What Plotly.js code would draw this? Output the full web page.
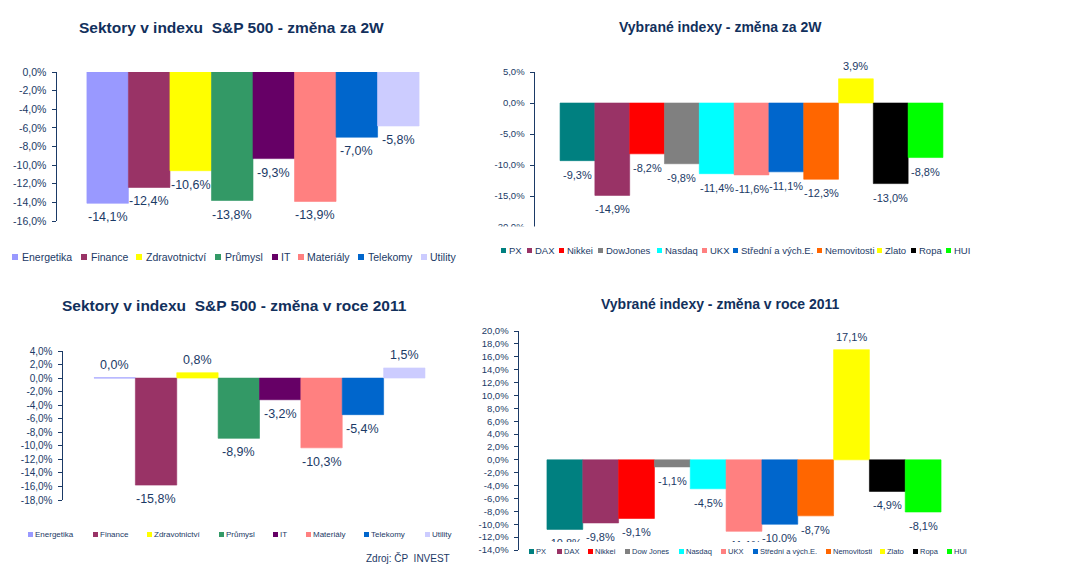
<!DOCTYPE html>
<html>
<head>
<meta charset="utf-8">
<script src="https://cdn.plot.ly/plotly-3.0.1.min.js"></script>
<style>html,body{margin:0;padding:0;background:#fff;}</style>
</head>
<body>
<div id="chart" style="width:1077px;height:576px;"></div>
<script>
// ---------- DATA ----------
const sectors = ['Energetika','Finance','Zdravotnictví','Průmysl','IT','Materiály','Telekomy','Utility'];
const sectorColors = ['#9999FF','#993366','#FFFF00','#339966','#660066','#FF8080','#0066CC','#CCCCFF'];
const sectors2W = [-14.1,-12.4,-10.6,-13.8,-9.3,-13.9,-7.0,-5.8];
const sectors2011 = [0.04,-15.8,0.8,-8.9,-3.2,-10.3,-5.4,1.5];

const indices2W = ['PX','DAX','Nikkei','DowJones','Nasdaq','UKX','Střední a vých.E.','Nemovitosti','Zlato','Ropa','HUI'];
const indices2011 = ['PX','DAX','Nikkei','Dow Jones','Nasdaq','UKX','Střední a vých.E.','Nemovitosti','Zlato','Ropa','HUI'];
const indexColors = ['#008080','#993366','#FF0000','#808080','#00FFFF','#FF8080','#0066CC','#FF6600','#FFFF00','#000000','#00FF00'];
const indicesVals2W = [-9.3,-14.9,-8.2,-9.8,-11.4,-11.6,-11.1,-12.3,3.9,-13.0,-8.8];
const indicesVals2011 = [-10.8,-9.8,-9.1,-1.1,-4.5,-11.1,-10.0,-8.7,17.1,-4.9,-8.1];

const ticksTL = [0,-2,-4,-6,-8,-10,-12,-14,-16];
const ticksTR = [5,0,-5,-10,-15,-20];
const ticksBL = [4,2,0,-2,-4,-6,-8,-10,-12,-14,-16,-18];
const ticksBR = [20,18,16,14,12,10,8,6,4,2,0,-2,-4,-6,-8,-10,-12,-14];

const titles = ['Sektory v indexu  S&P 500 - změna za 2W','Vybrané indexy - změna za 2W',
                'Sektory v indexu  S&P 500 - změna v roce 2011','Vybrané indexy - změna v roce 2011'];
const sourceText = 'Zdroj: ČP  INVEST';

// ---------- HELPERS ----------
const W = 1077, H = 576;
const px = x => x / W;
const py = y => 1 - y / H;
const fmt = v => v.toFixed(1).replace('.', ',') + '%';
const NAVY = '#1B3A66';
const TITLE = '#12305C';
const FONT = 'Liberation Sans, Arial, sans-serif';

const traces = [];
const annotations = [];
const shapes = [];

function addBars(names, vals, colors, xa, ya, fsize) {
  names.forEach((n, i) => {
    traces.push({
      type: 'bar', x: [n], y: [vals[i]],
      marker: {color: colors[i], line: {width: 0.6, color: colors[i]}},
      xaxis: xa, yaxis: ya, showlegend: false, hoverinfo: 'skip'
    });
    annotations.push({
      xref: xa, yref: ya, x: n, y: vals[i], text: fmt(vals[i]),
      xanchor: 'center', yanchor: 'middle', yshift: vals[i] < 0 ? -14 : 13,
      showarrow: false, font: {family: FONT, size: fsize, color: NAVY}
    });
  });
}
addBars(sectors, sectors2W, sectorColors, 'x', 'y', 12.5);
addBars(indices2W, indicesVals2W, indexColors, 'x2', 'y2', 11);
addBars(sectors, sectors2011, sectorColors, 'x3', 'y3', 12.5);
addBars(indices2011, indicesVals2011, indexColors, 'x4', 'y4', 11);

function yax(top, bottom, range, ticks, fsize, anchor) {
  return {
    domain: [py(bottom), py(top)], range: range, anchor: anchor,
    tickmode: 'array', tickvals: ticks, ticktext: ticks.map(fmt),
    ticks: 'outside', ticklen: 4, tickcolor: NAVY, tickwidth: 1,
    showline: true, linecolor: NAVY, linewidth: 1.5,
    showgrid: false, zeroline: false, ticklabelstandoff: 3,
    tickfont: {family: FONT, size: fsize, color: NAVY}, fixedrange: true
  };
}
function xax(left, right, range, anchor) {
  return {domain: [px(left), px(right)], range: range, anchor: anchor,
          type: 'category', visible: false, fixedrange: true};
}

// titles
[[231, 27, 15.5], [720, 27, 14], [234, 305, 15.5], [720, 304, 14]].forEach((p, i) => {
  annotations.push({xref: 'paper', yref: 'paper', x: px(p[0]), y: py(p[1]),
    xanchor: 'center', yanchor: 'middle', showarrow: false,
    text: '<b>' + titles[i] + '</b>', font: {family: FONT, size: p[2], color: TITLE}});
});

// region cut off at the bottom of the 2011 index chart in the original
annotations.push({xref: 'paper', yref: 'paper', x: px(525), y: py(542), xanchor: 'left', yanchor: 'top',
  showarrow: false, text: ' ', width: 485, height: 14, bgcolor: '#FFFFFF', borderpad: 0, borderwidth: 0});
// region cut off below the 2W index chart axis
shapes.push({type: 'rect', xref: 'paper', yref: 'paper', layer: 'above',
  x0: px(480), x1: px(600), y0: py(240), y1: py(226.5), fillcolor: '#FFFFFF', line: {width: 0}});

// legends (compact, like the original): coloured square + name
function addLegend(names, colors, xs, yc, sq, gap, fsize) {
  names.forEach((n, i) => {
    annotations.push({xref: 'paper', yref: 'paper', x: px(xs[i]), y: py(yc),
      xanchor: 'left', yanchor: 'middle', showarrow: false, text: ' ',
      width: sq, height: sq, bgcolor: colors[i], borderpad: 0, borderwidth: 0,
      font: {size: 1}});
    annotations.push({xref: 'paper', yref: 'paper', x: px(xs[i] + sq + gap), y: py(yc),
      xanchor: 'left', yanchor: 'middle', showarrow: false, text: n,
      font: {family: FONT, size: fsize, color: NAVY}, borderpad: 0});
  });
}
addLegend(sectors, sectorColors, [12, 81, 136, 215, 271.5, 297.5, 358, 420.5], 257, 6, 2.5, 10.5);
addLegend(indices2W, indexColors, [501, 527, 559, 598, 656.5, 701.5, 733, 817, 877, 911, 946], 251, 5, 2, 9.5);
addLegend(sectors, sectorColors, [28, 93, 147, 219, 273, 306, 364, 425], 534, 4.5, 1.5, 8);
addLegend(indices2011, indexColors, [529, 557, 588, 625, 679, 721, 753, 826, 880, 913, 947], 551, 4.5, 1, 7.5);

annotations.push({xref: 'paper', yref: 'paper', x: px(364), y: py(558), xanchor: 'left', yanchor: 'middle',
  showarrow: false, text: sourceText, font: {family: FONT, size: 10, color: NAVY}});

const layout = {
  width: W, height: 576, margin: {l: 0, r: 0, t: 0, b: 0},
  paper_bgcolor: '#FFFFFF', plot_bgcolor: 'rgba(0,0,0,0)',
  barmode: 'overlay', bargap: 0, showlegend: false,
  font: {family: FONT, color: NAVY},
  xaxis: xax(57, 449, [-1.22, 8.22], 'y'),
  yaxis: yax(72, 221, [-16, 0], ticksTL, 10.5, 'x'),
  xaxis2: xax(535, 968, [-1.22, 11.22], 'y2'),
  yaxis2: yax(72, 227, [-20, 5], ticksTR, 9.5, 'x2'),
  xaxis3: xax(63, 456, [-1.25, 8.25], 'y3'),
  yaxis3: yax(351, 500, [-18, 4], ticksBL, 10, 'x3'),
  xaxis4: xax(519, 969, [-1.28, 11.28], 'y4'),
  yaxis4: yax(331, 550, [-14, 20], ticksBR, 9.5, 'x4'),
  annotations: annotations, shapes: shapes
};

Plotly.newPlot('chart', traces, layout, {displayModeBar: false, staticPlot: true});
</script>
</body>
</html>
